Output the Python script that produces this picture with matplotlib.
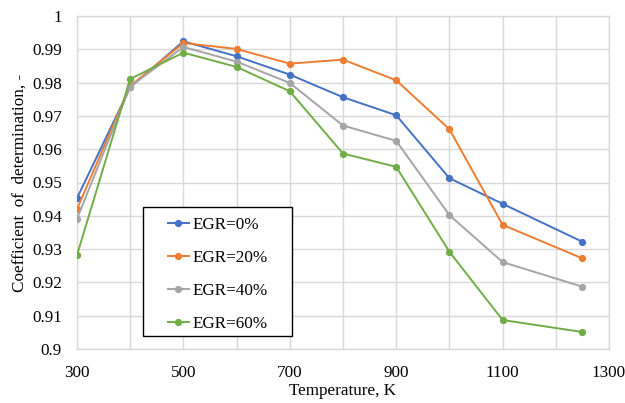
import matplotlib
matplotlib.use("Agg")
import matplotlib.pyplot as plt
from matplotlib.patches import Rectangle
from matplotlib.ticker import FuncFormatter

plt.rcParams['font.family'] = ['Liberation Serif', 'DejaVu Serif']

temperature = [300, 400, 500, 600, 700, 800, 900, 1000, 1100, 1250]
egr0 = [0.9453, 0.9786, 0.9924, 0.9879, 0.9824, 0.9756, 0.9702, 0.9513, 0.9436, 0.9322]
egr20 = [0.9420, 0.9790, 0.9919, 0.9901, 0.9857, 0.9869, 0.9807, 0.9660, 0.9373, 0.9272]
egr40 = [0.9391, 0.9788, 0.9907, 0.9863, 0.9799, 0.9671, 0.9625, 0.9402, 0.9261, 0.9187]
egr60 = [0.9282, 0.9811, 0.9890, 0.9847, 0.9774, 0.9587, 0.9547, 0.9292, 0.9087, 0.9051]
labels = ["EGR=0%", "EGR=20%", "EGR=40%", "EGR=60%"]
colors = ["#4472C4", "#ED7D31", "#A5A5A5", "#70AD47"]

fig = plt.figure(figsize=(6.25, 4.03), dpi=100)
ax = fig.add_axes([77/625, 1 - 349/403, (609-77)/625, (349-16)/403])

for ys, lab, c in zip([egr0, egr20, egr40, egr60], labels, colors):
    ax.plot(temperature, ys, color=c, lw=1.4, marker='o', markersize=4.2, label=lab, zorder=3)

ax.set_xlim(300, 1300)
ax.set_ylim(0.9, 1.0)
ax.set_xticks([300, 500, 700, 900, 1100, 1300])
ax.set_xticks([400, 600, 800, 1000, 1200], minor=True)
ax.set_yticks([0.9 + 0.01*i for i in range(11)])
ax.yaxis.set_major_formatter(FuncFormatter(lambda v, p: ("%.2f" % v).rstrip('0').rstrip('.')))
ax.grid(True, which='both', axis='x', color='#D9D9D9', lw=1)
ax.grid(True, which='major', axis='y', color='#D9D9D9', lw=1)
ax.set_axisbelow(True)
for s in ax.spines.values():
    s.set_color('#D9D9D9')
    s.set_linewidth(1)
ax.tick_params(which='both', length=0, labelsize=12.3, colors='black')
ax.tick_params(axis='x', pad=11.5)
ax.tick_params(axis='y', pad=10.8)

ax.set_xlabel("Temperature, K", fontsize=12.3, labelpad=1.5)
ax.set_ylabel("Coefficient  of  determination, -", fontsize=12.3, labelpad=3)

rect = Rectangle((0.1246, 0.039), 0.28, 0.388, transform=ax.transAxes,
                 facecolor='white', edgecolor='black', lw=1, zorder=5)
ax.add_patch(rect)
leg = ax.legend(loc='center', bbox_to_anchor=(0.2647, 0.2228), frameon=False,
                fontsize=12.3, handlelength=1.26, handletextpad=0.2, labelspacing=1.0,
                borderpad=0, borderaxespad=0)
leg.set_zorder(6)

fig.savefig("out.png", dpi=100)
